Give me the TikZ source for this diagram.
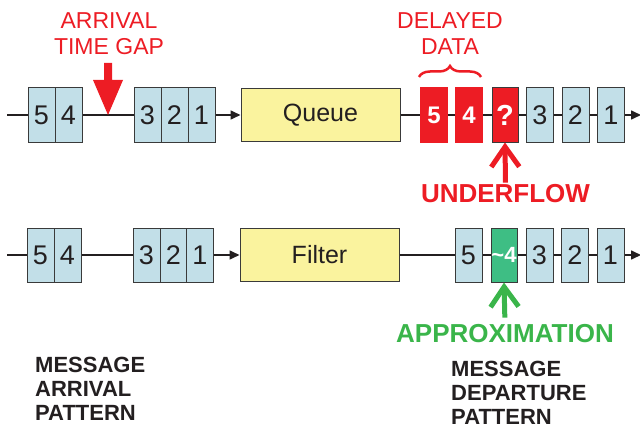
\documentclass[tikz,border=0pt]{standalone}
\usepackage{fontspec}
\setmainfont{Liberation Sans}
\usetikzlibrary{arrows.meta,decorations.pathreplacing}
\definecolor{lblue}{HTML}{C2DFE8}
\definecolor{lyellow}{HTML}{FAF39E}
\definecolor{bdr}{HTML}{3A3A3A}
\definecolor{ink}{HTML}{231F20}
\definecolor{myred}{HTML}{ED1C24}
\definecolor{mygreen}{HTML}{3AB54A}
\definecolor{gbox}{HTML}{3EBE84}
\begin{document}
\begin{tikzpicture}[x=1pt,y=-1pt,
  msgbox/.style={draw=bdr, fill=lblue, line width=1pt, minimum width=27pt, minimum height=54pt,
    inner sep=0pt, text=ink, font=\fontsize{27}{27}\selectfont},
  redbox/.style={fill=myred, minimum width=28pt, minimum height=55pt, inner sep=0pt,
    text=white, font=\bfseries\fontsize{24}{24}\selectfont},
  procbox/.style={draw=bdr, fill=lyellow, line width=1pt, minimum width=159pt, minimum height=53pt,
    inner sep=0pt, text=ink, font=\fontsize{25}{25}\selectfont},
  wire/.style={draw=ink, line width=1.6pt},
  wirearrow/.style={wire, -{Triangle[length=10pt,width=9pt]}},
  redlabel/.style={text=myred, align=center, inner sep=0pt, font=\fontsize{23}{26}\selectfont},
  biglabel/.style={inner sep=0pt, font=\bfseries\fontsize{26}{26}\selectfont},
  blacklabel/.style={text=ink, align=left, inner sep=0pt, font=\bfseries\fontsize{22}{24}\selectfont},
  pointer/.style={line width=5pt, -{Straight Barb[length=20pt,width=28pt]}}
]
\useasboundingbox (0,0) rectangle (640,428);

% ---------- top row ----------
\coordinate (tstart) at (7,115);
\coordinate (tend) at (641,115);
\node[msgbox] (ta5) at (41.5,115) {5};
\node[msgbox] (ta4) at (68.5,115) {4};
\node[msgbox] (tb3) at (147.5,115) {3};
\node[msgbox] (tb2) at (174.5,115) {2};
\node[msgbox] (tb1) at (201.5,115) {1};
\node[procbox] (queue) at (320.5,115) {Queue};
\node[redbox] (tr5) at (434,115) {5};
\node[redbox] (tr4) at (469,115) {4};
\node[redbox, draw=bdr, line width=1pt, minimum width=26pt, minimum height=54pt,
  font=\bfseries\fontsize{29}{29}\selectfont] (tq) at (505,115) {?};
\node[msgbox] (tc3) at (540,115) {3};
\node[msgbox] (tc2) at (575.5,115) {2};
\node[msgbox] (tc1) at (611,115) {1};

\draw[wire] (tstart) -- (ta5.west);
\draw[wire] (ta4.east) -- (tb3.west);
\draw[wirearrow] (tb1.east) -- (queue.west);
\draw[wire] (queue.east) -- (tr5.west);
\draw[wire] (tr5.east) -- (tr4.west);
\draw[wire] (tr4.east) -- (tq.west);
\draw[wire] (tq.east) -- (tc3.west);
\draw[wire] (tc3.east) -- (tc2.west);
\draw[wire] (tc2.east) -- (tc1.west);
\draw[wirearrow] (tc1.east) -- (tend);

% arrival time gap
\node[redlabel] (gap) at (109,34) {ARRIVAL\\TIME GAP};
\coordinate (gaptip) at (108,115);
\fill[myred] (104,63) -- (112,63) -- (112,80) -- (123,80) -- (gaptip) -- (93,80) -- (104,80) -- cycle;

% delayed data
\node[redlabel] (delayed) at (450,34) {DELAYED\\DATA};
\draw[myred, line width=2.5pt, decorate, decoration={brace, amplitude=11pt}] (419,77) -- (481,77);

% underflow
\node[biglabel, text=myred] (uf) at (505.5,194) {UNDERFLOW};
\draw[pointer, myred, shorten <=2pt] (uf.north) -- (tq.south);

% ---------- bottom row ----------
\coordinate (bstart) at (7,255);
\coordinate (bend) at (641,255);
\node[msgbox] (ba5) at (40.5,255) {5};
\node[msgbox] (ba4) at (67.5,255) {4};
\node[msgbox] (bb3) at (146.5,255) {3};
\node[msgbox] (bb2) at (173.5,255) {2};
\node[msgbox] (bb1) at (200,255) {1};
\node[procbox] (filter) at (319.5,255) {Filter};
\node[msgbox] (bd5) at (468.5,255) {5};
\node[msgbox, fill=gbox, text=white, minimum width=26pt,
  font=\bfseries\fontsize{22}{22}\selectfont] (bg) at (504,255) {\textasciitilde4};
\node[msgbox] (be3) at (539.5,255) {3};
\node[msgbox] (be2) at (575,255) {2};
\node[msgbox] (be1) at (610.5,255) {1};

\draw[wire] (bstart) -- (ba5.west);
\draw[wire] (ba4.east) -- (bb3.west);
\draw[wirearrow] (bb1.east) -- (filter.west);
\draw[wire] (filter.east) -- (bd5.west);
\draw[wire] (bd5.east) -- (bg.west);
\draw[wire] (bg.east) -- (be3.west);
\draw[wire] (be3.east) -- (be2.west);
\draw[wire] (be2.east) -- (be1.west);
\draw[wirearrow] (be1.east) -- (bend);

% approximation
\node[biglabel, text=mygreen] (approx) at (505,334) {APPROXIMATION};
\draw[pointer, mygreen, shorten <=7pt] (approx.north) -- (bg.south);

% patterns
\node[blacklabel, anchor=north west] (arrpat) at (35,357) {MESSAGE\\ARRIVAL\\PATTERN};
\node[blacklabel, anchor=north west] (deppat) at (451,361) {MESSAGE\\DEPARTURE\\PATTERN};
\end{tikzpicture}
\end{document}
